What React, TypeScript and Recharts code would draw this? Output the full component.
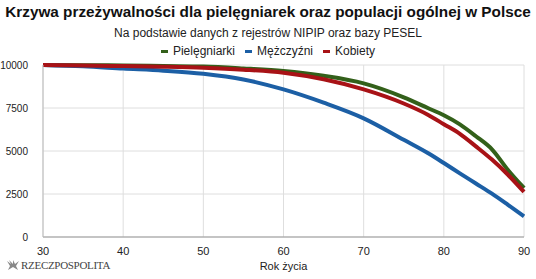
import React from "react";
import { LineChart, Line, XAxis, YAxis, CartesianGrid } from "recharts";

// Age (years) at which survival is read
const ages = [30, 35, 40, 45, 50, 55, 60, 65, 70, 75, 78, 80, 82, 84, 86, 88, 90];
// Survivors out of 10000
const nurses = [10000, 9990, 9970, 9940, 9910, 9800, 9650, 9370, 8930, 8120, 7500, 7080, 6550, 5860, 5100, 3900, 2850];
const men = [10000, 9920, 9790, 9670, 9490, 9160, 8580, 7810, 6900, 5650, 4880, 4300, 3700, 3110, 2520, 1870, 1200];
const women = [10000, 9970, 9940, 9900, 9840, 9730, 9550, 9170, 8580, 7760, 7110, 6560, 6000, 5270, 4500, 3620, 2620];

const xTicks = [30, 40, 50, 60, 70, 80, 90];
const yTicks = [0, 2500, 5000, 7500, 10000];

const seriesDefs = [
  { key: "nurses", name: "Pielęgniarki", color: "#33601a" },
  { key: "men", name: "Mężczyźni", color: "#1c5fa5" },
  { key: "women", name: "Kobiety", color: "#a81216" },
];

const data = ages.map((age, i) => ({
  age,
  nurses: nurses[i],
  men: men[i],
  women: women[i],
}));

const FONT = "'Liberation Sans', Arial, sans-serif";

function LegendRow() {
  return (
    <div
      style={{
        position: "absolute",
        top: 44,
        left: 0,
        width: 536,
        display: "flex",
        justifyContent: "center",
        gap: 10,
        fontSize: 12,
        color: "#222",
        lineHeight: "14px",
        whiteSpace: "nowrap",
      }}
    >
      {seriesDefs.map((s) => (
        <span key={s.key} style={{ display: "flex", alignItems: "center" }}>
          <span
            style={{
              display: "inline-block",
              width: 7,
              height: 3,
              background: s.color,
              marginRight: 5,
            }}
          />
          {s.name}
        </span>
      ))}
    </div>
  );
}

export default function App() {
  return (
    <div
      style={{
        position: "absolute",
        left: 0,
        top: 0,
        width: 536,
        height: 279,
        background: "#fff",
        fontFamily: FONT,
        overflow: "hidden",
      }}
    >
      <div
        style={{
          position: "absolute",
          top: 3,
          left: 0,
          width: 536,
          textAlign: "center",
          fontWeight: "bold",
          fontSize: 15.3,
          color: "#111",
          lineHeight: "18px",
          whiteSpace: "nowrap",
        }}
      >
        Krzywa przeżywalności dla pielęgniarek oraz populacji ogólnej w Polsce
      </div>
      <div
        style={{
          position: "absolute",
          top: 26,
          left: 0,
          width: 536,
          textAlign: "center",
          fontSize: 12,
          color: "#222",
          lineHeight: "14px",
          whiteSpace: "nowrap",
        }}
      >
        Na podstawie danych z rejestrów NIPIP oraz bazy PESEL
      </div>
      <LegendRow />
      <div style={{ position: "absolute", top: 0, left: 0 }}>
        <LineChart
          width={536}
          height={279}
          data={data}
          margin={{ top: 65, right: 12, bottom: 12, left: 0 }}
        >
          <CartesianGrid stroke="#dedede" strokeWidth={1} />
          <XAxis
            dataKey="age"
            type="number"
            domain={[30, 90]}
            ticks={xTicks}
            height={30}
            tickLine={false}
            axisLine={{ stroke: "#999" }}
            tick={{ fill: "#222", fontSize: 11, fontFamily: FONT }}
            tickMargin={4}
            label={{
              value: "Rok życia",
              position: "insideBottom",
              offset: -3,
              fill: "#222",
              fontSize: 11,
              fontFamily: FONT,
            }}
          />
          <YAxis
            width={43}
            domain={[0, 10000]}
            ticks={yTicks}
            tickLine={false}
            axisLine={{ stroke: "#bbb" }}
            tick={{ fill: "#222", fontSize: 10, fontFamily: FONT }}
            tickMargin={9}
          />
          {seriesDefs.map((s) => (
            <Line
              key={s.key}
              dataKey={s.key}
              name={s.name}
              type="monotone"
              stroke={s.color}
              strokeWidth={4}
              dot={false}
              activeDot={false}
              isAnimationActive={false}
            />
          ))}
        </LineChart>
      </div>
      <div
        style={{
          position: "absolute",
          left: 6,
          top: 259,
          fontFamily: "'Liberation Serif', 'DejaVu Serif', serif",
          fontSize: 11,
          color: "#444",
          letterSpacing: -0.3,
          display: "flex",
          alignItems: "center",
        }}
      >
        <svg width="14" height="12" viewBox="0 0 14 12" style={{ marginRight: 1 }}>
          <path
            d="M1 2 L5 5 L3 1 L7 5 L7 1 L9 5 L13 2 L10 7 L12 11 L7 8 L2 11 L4 7 Z"
            fill="#888"
          />
        </svg>
        <span>RZECZPOSPOLITA</span>
      </div>
    </div>
  );
}
